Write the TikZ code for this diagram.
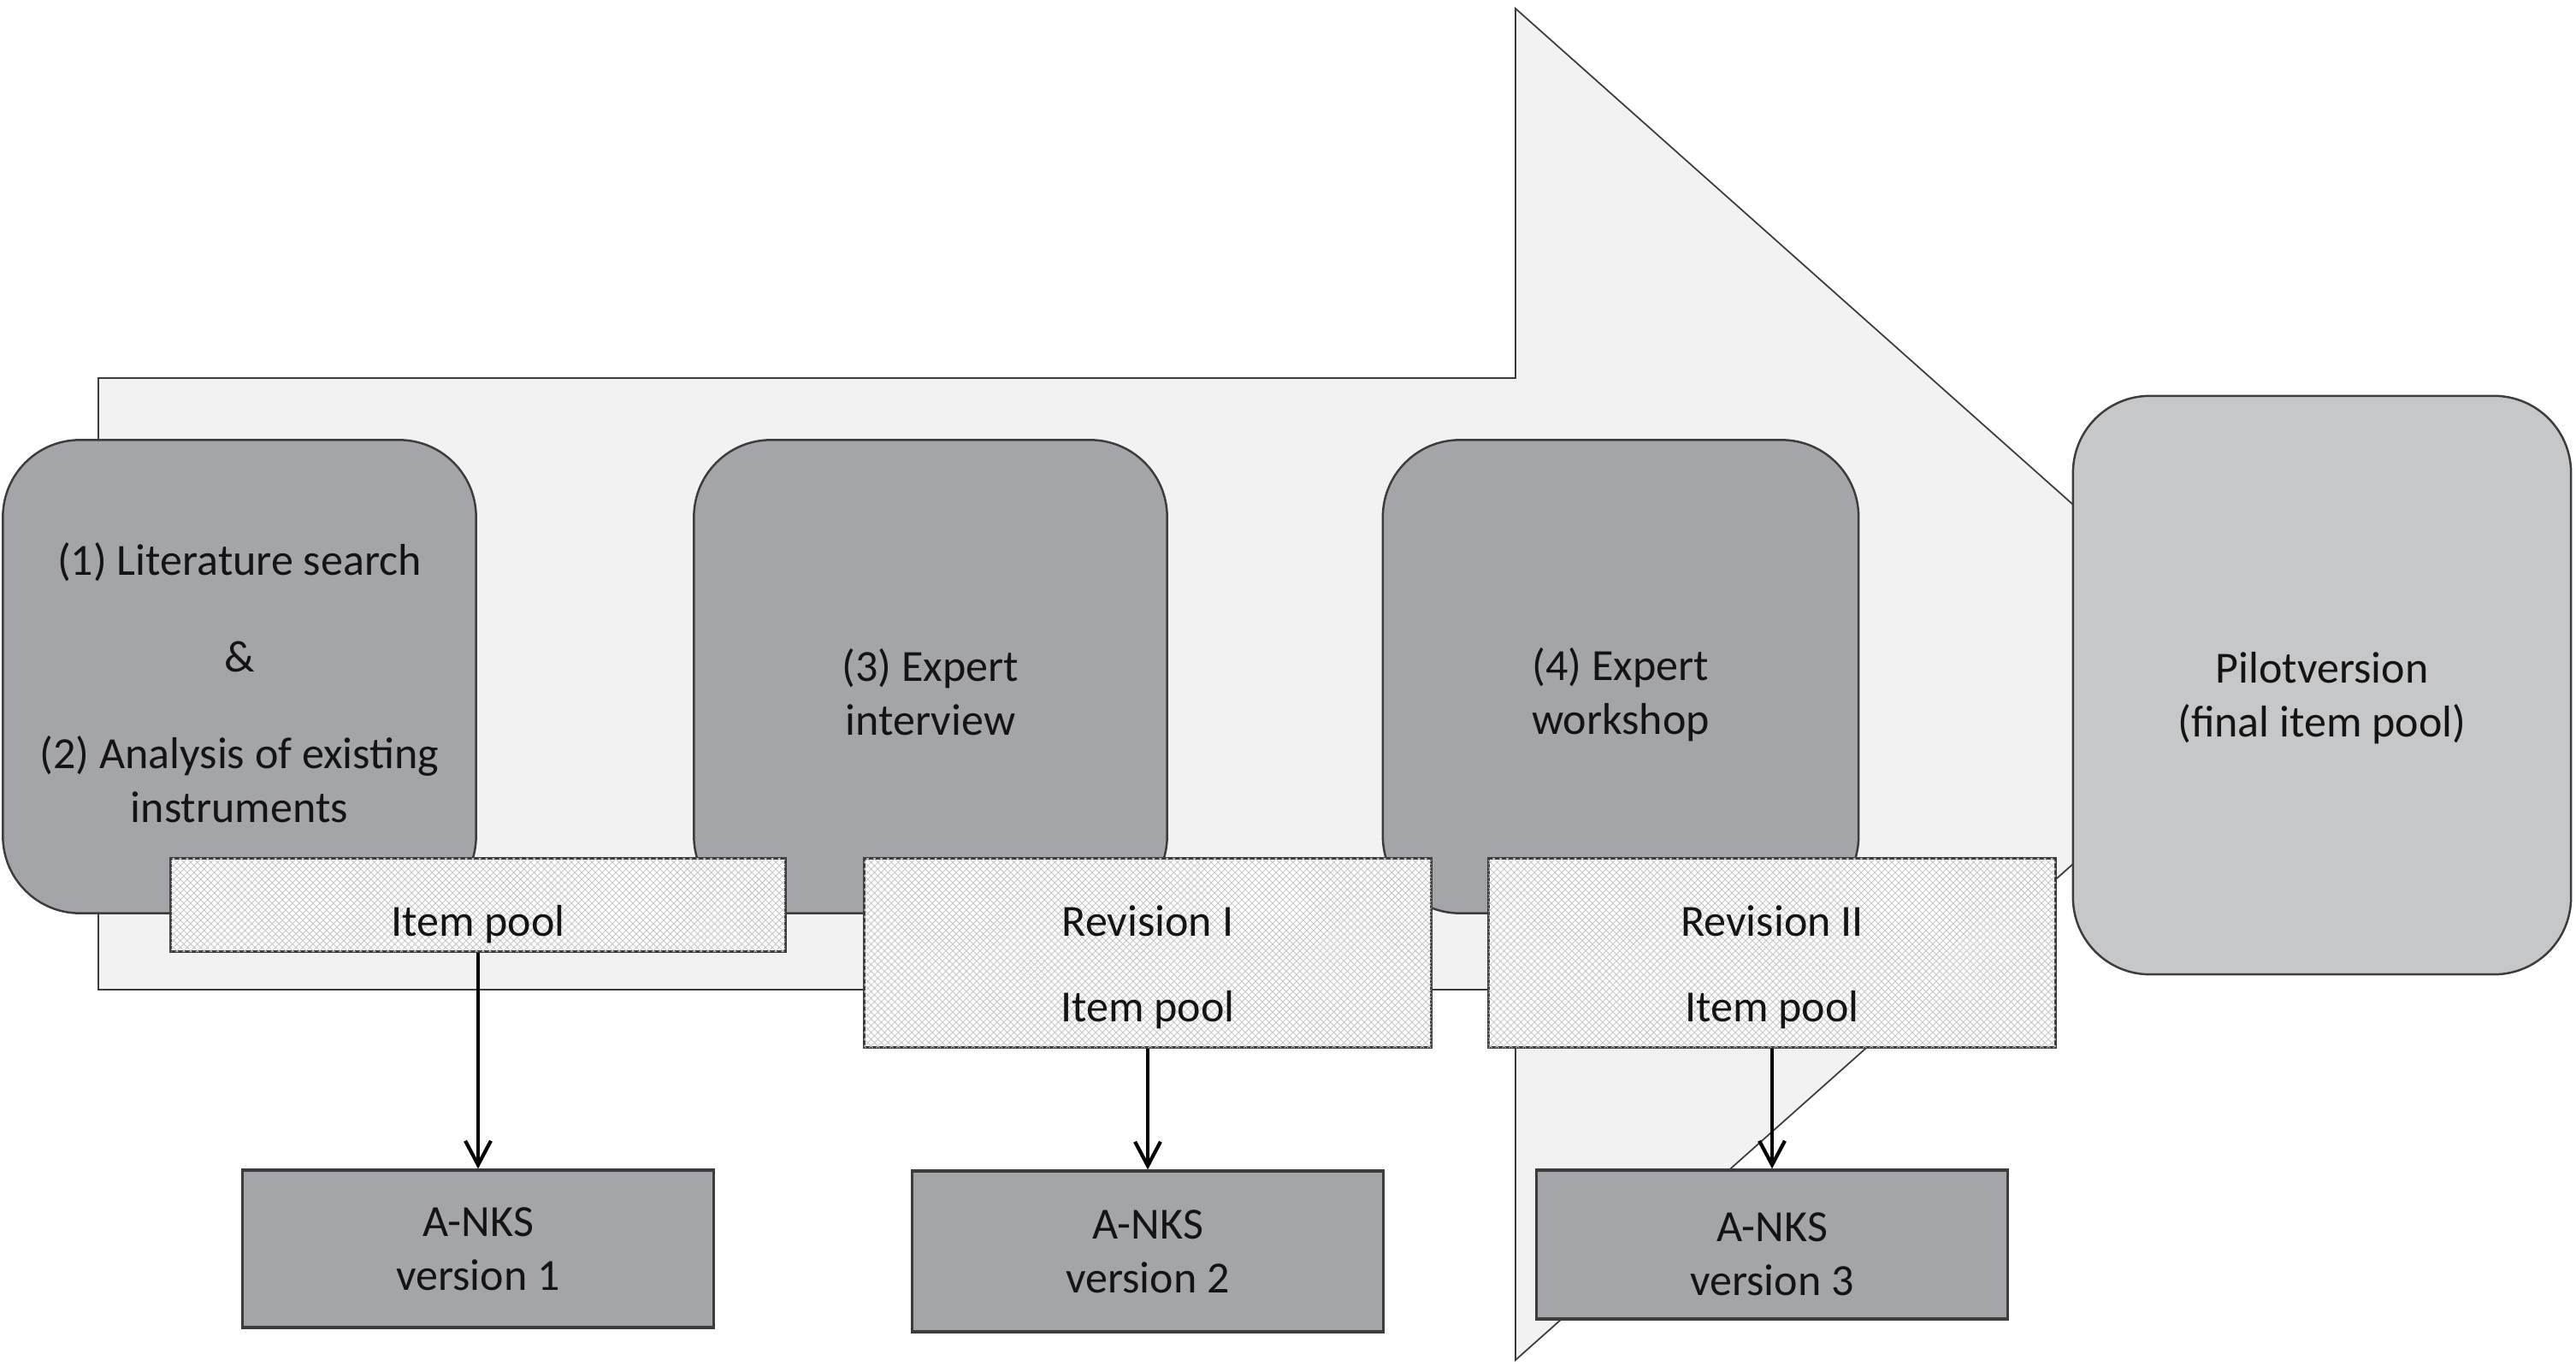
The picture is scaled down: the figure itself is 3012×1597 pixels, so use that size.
\documentclass[tikz,border=0pt]{standalone}
\usepackage{fontspec}
\setmainfont{Carlito}
\usepackage{tikz}
\usetikzlibrary{arrows.meta,patterns.meta}
\usetikzlibrary{backgrounds}
\definecolor{stepgray}{HTML}{A4A5A9}
\definecolor{pilotgray}{HTML}{C6C7C9}
\definecolor{arrowgray}{HTML}{F2F2F2}
\definecolor{linegray}{HTML}{3C3C3C}
% a strut in the first line pushes the text a little lower in its box
\newcommand{\lowerby}[1]{\rule{0pt}{\dimexpr 12pt+#1\relax}}
\tikzstyle{phase}=[rectangle,
rounded corners=9mm,
draw=linegray,
line width=0.7pt,
fill=stepgray,
align=center,
inner sep=0pt,
minimum width=5.53cm,
minimum height=5.53cm]
\tikzstyle{pilot}=[phase,
fill=pilotgray,
minimum width=5.82cm,
minimum height=6.76cm]
\tikzstyle{pool}=[rectangle,
draw=linegray,
line width=0.8pt,
fill=white,
postaction={pattern={Hatch[angle=45,distance=1.6pt,line width=0.25pt]},pattern color=black!22},
align=center,
inner sep=0pt,
minimum width=6.63cm,
minimum height=2.21cm]
\tikzstyle{version}=[rectangle,
draw=linegray,
line width=0.9pt,
fill=stepgray,
align=center,
inner sep=0pt,
minimum width=5.5cm,
minimum height=1.86cm]
\tikzstyle{bigarrow}=[draw=linegray,
line width=0.5pt,
fill=arrowgray]
\tikzstyle{link}=[->,
line width=1.2pt,
draw=black]

\begin{document}
\begin{tikzpicture}[>={Straight Barb[length=8pt,width=8.5pt]},x=0.01cm,y=-0.01cm,
	font=\fontsize{14.8pt}{17.9pt}\selectfont,text=black!92]
	\useasboundingbox (0,0) rectangle (3012,1597);
	
	% The four steps of the development, left to right
	\node (step1) [phase] at (280,791) {\lowerby{3pt}(1) Literature search\\[0.5cm]\&\\[0.5cm](2) Analysis of existing\\instruments};
	\node (step2) [phase] at (1088,791) {\lowerby{9pt}(3) Expert\\interview};
	\node (step3) [phase,minimum width=5.56cm] at (1895,791) {\lowerby{11pt}(4) Expert\\workshop};
	\node (final) [pilot] at (2715,801) {\lowerby{7pt}Pilotversion\\(final item pool)};
	
	% Item pools, laid over the lower edge of the steps
	\node (pool1) [pool,minimum width=7.18cm,minimum height=1.09cm] at (559,1058) {\lowerby{11pt}Item pool};
	\node (pool2) [pool] at (1342,1114) {\lowerby{7.6pt}Revision I\\[0.37cm]Item pool};
	\node (pool3) [pool] at (2072,1114) {\lowerby{7.6pt}Revision II\\[0.37cm]Item pool};
	
	% Versions of the instrument
	\node (anks1) [version,minimum height=1.84cm] at (559,1460) {A-NKS\\version 1};
	\node (anks2) [version,minimum height=1.88cm] at (1342,1463) {A-NKS\\version 2};
	\node (anks3) [version,minimum height=1.74cm] at (2072,1455) {\lowerby{4pt}A-NKS\\version 3};
	
	\path
	(pool1) edge[link] (anks1)
	(pool2) edge[link] (anks2)
	(pool3) edge[link] (anks3);
	
	% The big arrow goes behind everything else
	\begin{pgfonlayer}{background}
	\draw[bigarrow] (115,442) -- (1772,442) -- (1772,10) -- (2660,800)
	-- (1772,1590) -- (1772,1157) -- (115,1157) -- cycle;
	\end{pgfonlayer}
\end{tikzpicture}
\end{document}
